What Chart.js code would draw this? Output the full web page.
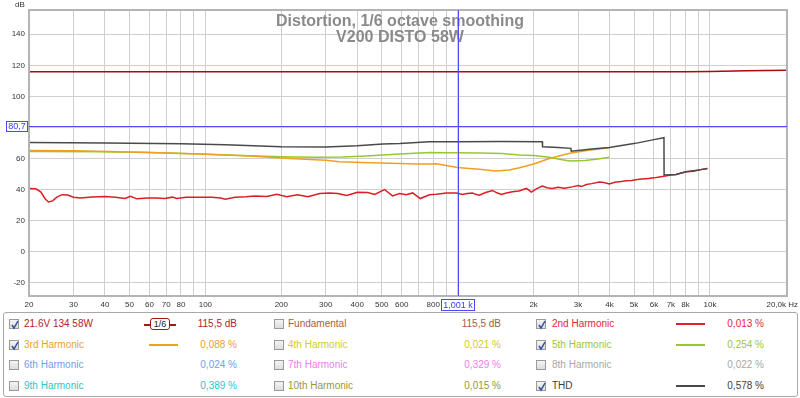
<!DOCTYPE html>
<html lang="en">
<head>
<meta charset="UTF-8">
<title>Distortion, 1/6 octave smoothing</title>
<script src="https://cdn.jsdelivr.net/npm/chart.js"></script>
<style>
    body { margin: 0; background: #fff; font-family: "Liberation Sans", Arial, sans-serif; }
    #wrap { position: relative; width: 800px; height: 398px; overflow: hidden; }
    #grafico { position: absolute; left: 0; top: 0; }
    #panel { position: absolute; left: 3px; top: 312px; width: 793px; height: 83px; border: 1px solid #a8a8a8; border-radius: 3px; }
    .cb { position: absolute; width: 10px; height: 10px; border: 1px solid #9a9a9a; background: linear-gradient(#f4f4f4, #dcdcdc); box-sizing: border-box; }
    .cb svg { position: absolute; left: 0; top: 0; }
    .lbl { position: absolute; font-size: 10px; line-height: 12px; white-space: nowrap; }
    .val { position: absolute; font-size: 10px; line-height: 12px; white-space: nowrap; text-align: right; width: 80px; }
    .smp { position: absolute; height: 2px; width: 29px; }
    .smooth { position: absolute; left: 140px; top: 5px; width: 32px; height: 12px; }
</style>
</head>
<body>
<div id="wrap">
    <canvas id="grafico" width="800" height="312"></canvas>
    <div id="panel">
        <!-- row 1 -->
        <div class="cb" style="left:5px;top:6px"><svg width="10" height="10"><polyline points="2,5 4,8 8,1" fill="none" stroke="#2f4f9f" stroke-width="1.5"/></svg></div>
        <span class="lbl" style="left:20px;top:5px;color:#b0242a">21.6V 134 58W</span>
        <div class="smooth">
            <div style="position:absolute;left:0;top:6px;width:32px;height:1.5px;background:#a01818"></div>
            <div style="position:absolute;left:6px;top:0;width:18px;height:10px;border:1.5px solid #a01818;border-radius:3px;background:#fff;font-size:9px;line-height:10px;text-align:center;color:#222">1/6</div>
        </div>
        <span class="val" style="left:153px;top:5px;color:#b0242a">115,5 dB</span>
        <div class="cb" style="left:270px;top:6px"></div>
        <span class="lbl" style="left:284px;top:5px;color:#a85e3c">Fundamental</span>
        <span class="val" style="left:417px;top:5px;color:#a85e3c">115,5 dB</span>
        <div class="cb" style="left:532px;top:6px"><svg width="10" height="10"><polyline points="2,5 4,8 8,1" fill="none" stroke="#2f4f9f" stroke-width="1.5"/></svg></div>
        <span class="lbl" style="left:548px;top:5px;color:#e0283a">2nd Harmonic</span>
        <div class="smp" style="left:672px;top:10px;background:#e0202a"></div>
        <span class="val" style="left:680px;top:5px;color:#e0283a">0,013 %</span>
        <!-- row 2 -->
        <div class="cb" style="left:5px;top:27px"><svg width="10" height="10"><polyline points="2,5 4,8 8,1" fill="none" stroke="#2f4f9f" stroke-width="1.5"/></svg></div>
        <span class="lbl" style="left:20px;top:26px;color:#f0a030">3rd Harmonic</span>
        <div class="smp" style="left:145px;top:31px;background:#f0a020"></div>
        <span class="val" style="left:153px;top:26px;color:#f0a030">0,088 %</span>
        <div class="cb" style="left:270px;top:27px"></div>
        <span class="lbl" style="left:284px;top:26px;color:#d4cc20">4th Harmonic</span>
        <span class="val" style="left:417px;top:26px;color:#d4cc20">0,021 %</span>
        <div class="cb" style="left:532px;top:27px"><svg width="10" height="10"><polyline points="2,5 4,8 8,1" fill="none" stroke="#2f4f9f" stroke-width="1.5"/></svg></div>
        <span class="lbl" style="left:548px;top:26px;color:#98c840">5th Harmonic</span>
        <div class="smp" style="left:672px;top:31px;background:#98c830"></div>
        <span class="val" style="left:680px;top:26px;color:#98c840">0,254 %</span>
        <!-- row 3 -->
        <div class="cb" style="left:5px;top:47px"></div>
        <span class="lbl" style="left:20px;top:46px;color:#70a0f0">6th Harmonic</span>
        <span class="val" style="left:153px;top:46px;color:#70a0f0">0,024 %</span>
        <div class="cb" style="left:270px;top:47px"></div>
        <span class="lbl" style="left:284px;top:46px;color:#f07cf0">7th Harmonic</span>
        <span class="val" style="left:417px;top:46px;color:#f07cf0">0,329 %</span>
        <div class="cb" style="left:532px;top:47px"></div>
        <span class="lbl" style="left:548px;top:46px;color:#a8a8a8">8th Harmonic</span>
        <span class="val" style="left:680px;top:46px;color:#a8a8a8">0,022 %</span>
        <!-- row 4 -->
        <div class="cb" style="left:5px;top:68px"></div>
        <span class="lbl" style="left:20px;top:67px;color:#30c4c8">9th Harmonic</span>
        <span class="val" style="left:153px;top:67px;color:#30c4c8">0,389 %</span>
        <div class="cb" style="left:270px;top:68px"></div>
        <span class="lbl" style="left:284px;top:67px;color:#9a9638">10th Harmonic</span>
        <span class="val" style="left:417px;top:67px;color:#9a9638">0,015 %</span>
        <div class="cb" style="left:532px;top:68px"><svg width="10" height="10"><polyline points="2,5 4,8 8,1" fill="none" stroke="#2f4f9f" stroke-width="1.5"/></svg></div>
        <span class="lbl" style="left:548px;top:67px;color:#404040">THD</span>
        <div class="smp" style="left:672px;top:72px;background:#484848"></div>
        <span class="val" style="left:680px;top:67px;color:#404040">0,578 %</span>
    </div>
</div>

<script>
    // fundamental (21.6V 134 58W)
    const fundFreq = [20, 100, 1000, 5000, 8000, 10000, 14000, 20200];
    const fundDb   = [115.8, 115.8, 115.8, 115.8, 115.9, 116.1, 116.5, 116.9];

    // 2nd harmonic
    const h2Freq = [20, 21.3, 22.3, 23.2, 23.9, 24.8, 25.8, 27, 28.5, 30, 32, 35.5, 40, 44, 48, 50.5, 53.5, 59, 64, 69, 74, 77, 84, 93.6,
                    106, 115, 120, 131, 145, 157, 175, 192, 210, 232, 255, 284, 311, 335, 363, 401, 440, 469, 513, 552, 589, 626, 663, 711,
                    773, 823, 903, 990, 1045, 1090, 1145, 1180, 1220, 1290, 1375, 1430, 1492, 1560, 1648, 1750, 1873, 1960, 2050, 2165,
                    2260, 2367, 2500, 2650, 2848, 3000, 3100, 3236, 3400, 3641, 3800, 3990, 4200, 4450, 4656, 4900, 5150, 5387, 5700,
                    6000, 6300, 6572, 7000, 7345, 7700, 8045, 8600, 9200, 9770];
    const h2Db   = [40.8, 40.6, 38.5, 34.0, 32.1, 32.8, 35.2, 36.8, 36.6, 35.2, 34.6, 35.3, 35.6, 35.2, 34.3, 35.8, 34.1, 34.7, 34.6, 34.4, 35.2, 34.3, 35.1, 35.2,
                    35.2, 34.7, 33.9, 35.2, 35.4, 36.0, 35.6, 37.1, 35.4, 36.7, 35.4, 37.5, 37.9, 37.5, 36.2, 38.4, 38.2, 36.9, 40.1, 36.0, 37.5, 36.7, 37.9, 34.3,
                    36.7, 37.1, 37.9, 37.9, 36.9, 37.6, 37.9, 37.0, 36.4, 38.2, 39.5, 38.0, 36.9, 37.8, 38.6, 39.2, 40.8, 38.4, 40.5, 42.3,
                    41.2, 40.8, 41.5, 41.0, 41.8, 42.6, 42.0, 43.3, 43.9, 45.0, 44.6, 43.7, 44.8, 45.2, 45.7, 45.9, 46.5, 46.8, 47.2,
                    47.6, 48.2, 48.7, 49.4, 49.8, 50.8, 51.5, 51.9, 52.9, 53.7];

    // 3rd harmonic
    const h3Freq = [20, 30, 38, 60, 95, 150, 216, 300, 340, 450, 589, 700, 773, 823, 900, 1000, 1110, 1220, 1420, 1600, 1760, 2000, 2310, 2780, 3300, 3990];
    const h3Db   = [65.2, 65.0, 64.7, 64.0, 62.9, 61.6, 60.1, 59.0, 57.9, 57.3, 56.9, 56.6, 56.5, 56.7, 55.5, 54.3, 53.7, 53.2, 52.1, 52.6, 54.1, 56.5, 60.1, 63.4, 65.3, 67.0];

    // 5th harmonic
    const h5Freq = [20, 38, 60, 95, 150, 200, 276, 350, 434, 589, 773, 900, 1000, 1220, 1500, 1760, 2000, 2310, 2500, 2780, 3200, 3600, 3990];
    const h5Db   = [64.6, 64.4, 63.9, 62.9, 61.8, 61.2, 60.8, 61.0, 61.6, 62.9, 64.0, 63.8, 63.7, 63.6, 63.2, 62.3, 62.0, 60.8, 59.8, 58.4, 58.7, 59.8, 60.8];

    // THD
    const thdFreq = [20, 40, 80, 120, 200, 300, 400, 505, 589, 773, 1000, 1500, 2165, 2170, 2500, 2810, 2820, 3400, 3990, 5060, 6000, 6572, 6580, 7345, 8045, 9200, 9770];
    const thdDb   = [70.3, 70.1, 69.6, 68.9, 67.7, 67.5, 68.2, 69.4, 69.7, 70.8, 70.8, 71.0, 70.9, 67.6, 67.2, 66.6, 64.8, 66.1, 67.2, 69.8, 72.2, 73.4, 49.4, 49.8, 51.5, 52.9, 53.7];

    // axes
    const xGridFreqs = [20, 30, 40, 50, 60, 70, 80, 90, 100, 200, 300, 400, 500, 600, 700, 800, 900, 1000,
                        2000, 3000, 4000, 5000, 6000, 7000, 8000, 9000, 10000];
    const xTickText  = ['20', '30', '40', '50', '60', '70', '80', '', '100', '200', '300', '400', '500', '600', '', '800', '', '',
                        '2k', '3k', '4k', '5k', '6k', '7k', '8k', '', '10k'];
    const xEndLabel = '20,0k Hz';
    const yTicks = [-20, 0, 20, 40, 60, 80, 100, 120, 140];

    // cursor
    const cursorFreq = 1001;
    const cursorDb = 80.7;

    const titleLines = ['Distortion, 1/6 octave smoothing', 'V200 DISTO 58W'];

    function pontos(fr, db) {
        return fr.map((f, i) => ({ x: f, y: db[i] }));
    }

    const fonte = '"Liberation Sans", Arial, sans-serif';

    const overlay = {
        id: 'overlay',
        beforeDatasetsDraw(chart) {
            const c = chart.ctx;
            c.save();
            c.fillStyle = '#8a8a8a';
            c.font = 'bold 16px ' + fonte;
            c.textAlign = 'center';
            c.fillText(titleLines[0], 400, 26);
            c.fillText(titleLines[1], 400, 42);
            c.restore();
        },
        afterDatasetsDraw(chart) {
            const c = chart.ctx, a = chart.chartArea;
            const xs = chart.scales.x, ys = chart.scales.y;
            const cx = Math.round(xs.getPixelForValue(cursorFreq)) + 0.5;
            const cy = Math.round(ys.getPixelForValue(cursorDb)) + 0.5;
            c.save();
            // frame
            c.strokeStyle = '#b4b4b4';
            c.lineWidth = 2;
            c.strokeRect(a.left, a.top, a.right - a.left, a.bottom - a.top);
            // cursors
            c.strokeStyle = '#4a4aff';
            c.lineWidth = 1;
            c.beginPath();
            c.moveTo(cx, a.top); c.lineTo(cx, a.bottom);
            c.moveTo(a.left, cy); c.lineTo(a.right, cy);
            c.stroke();
            // cursor boxes
            c.font = '9px ' + fonte;
            c.textBaseline = 'middle';
            c.textAlign = 'center';
            c.fillStyle = '#fff';
            c.fillRect(6.5, cy - 5, 21, 10);
            c.strokeRect(6.5, cy - 5, 21, 10);
            c.fillStyle = '#3a3aff';
            c.fillText('80,7', 17, cy + 0.5);
            c.fillStyle = '#fff';
            c.fillRect(cx - 17, 299.5, 33, 11);
            c.strokeRect(cx - 17, 299.5, 33, 11);
            c.fillStyle = '#3a3aff';
            c.fillText('1,001 k', cx - 0.5, 305.5);
            // dB label and end of frequency axis
            c.fillStyle = '#333';
            c.font = '8px ' + fonte;
            c.fillText('dB', 20, 5);
            c.textAlign = 'right';
            c.fillText(xEndLabel, 798, 305);
            c.restore();
        }
    };

    const ctx = document.getElementById('grafico').getContext('2d');
    const chart = new Chart(ctx, {
        type: 'line',
        data: {
            datasets: [
                { label: 'THD', data: pontos(thdFreq, thdDb), borderColor: '#4a4a4a' },
                { label: '3rd Harmonic', data: pontos(h3Freq, h3Db), borderColor: '#f0a020' },
                { label: '5th Harmonic', data: pontos(h5Freq, h5Db), borderColor: '#98c830' },
                { label: '2nd Harmonic', data: pontos(h2Freq, h2Db), borderColor: '#dc1e24' },
                { label: '21.6V 134 58W', data: pontos(fundFreq, fundDb), borderColor: '#a80c0c' }
            ]
        },
        options: {
            responsive: false,
            animation: false,
            layout: { padding: { top: 10, right: 13, left: 0, bottom: 0 } },
            plugins: { legend: { display: false }, tooltip: { enabled: false } },
            elements: { point: { radius: 0 }, line: { borderWidth: 1.5, tension: 0 } },
            scales: {
                x: {
                    type: 'logarithmic', min: 20, max: 20200,
                    afterBuildTicks: (s) => { s.ticks = xGridFreqs.map(v => ({ value: v })); },
                    afterFit: (s) => { s.height = 16; s.paddingLeft = 0; s.paddingRight = 0; },
                    ticks: {
                        autoSkip: false, maxRotation: 0, minRotation: 0, padding: 4,
                        color: '#333', font: { size: 8, family: fonte },
                        callback: (v) => { const i = xGridFreqs.indexOf(v); return i < 0 ? '' : xTickText[i]; }
                    },
                    grid: { color: '#cfcfcf', drawTicks: false },
                    border: { display: false }
                },
                y: {
                    min: -28.4, max: 155.6,
                    afterBuildTicks: (s) => { s.ticks = yTicks.map(v => ({ value: v })); },
                    afterFit: (s) => { s.width = 29; },
                    ticks: { padding: 4, color: '#333', font: { size: 8, family: fonte } },
                    grid: { color: '#cfcfcf', drawTicks: false },
                    border: { display: false }
                }
            }
        },
        plugins: [overlay]
    });
</script>
</body>
</html>
